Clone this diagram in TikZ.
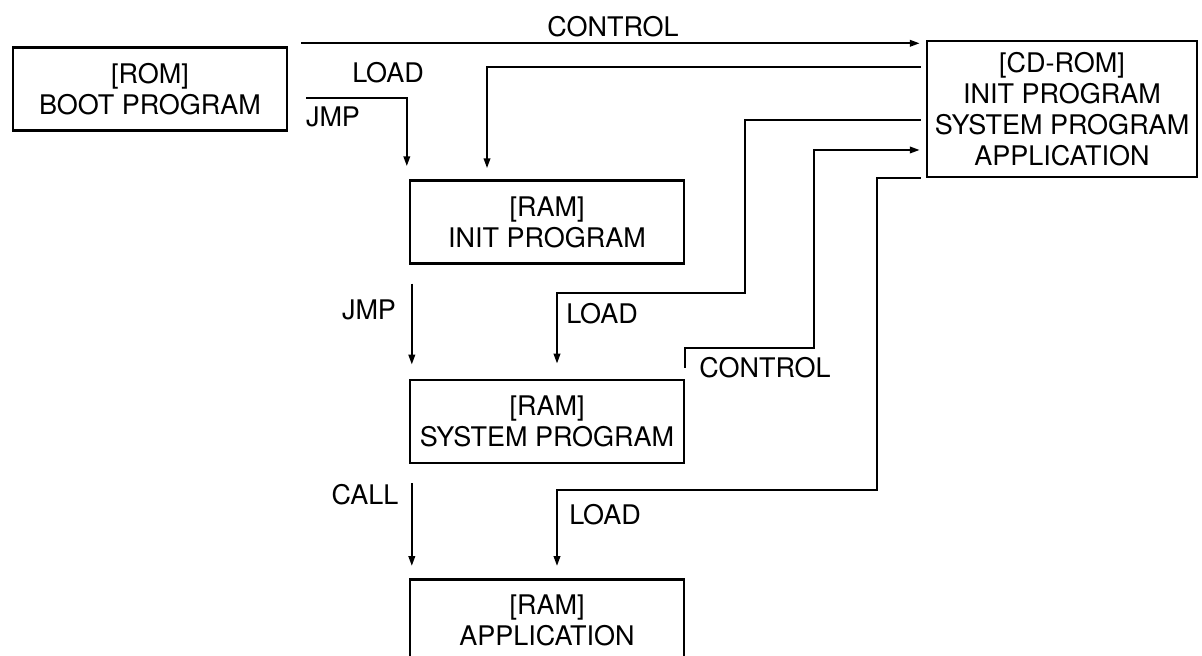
\documentclass[tikz,border=0pt]{standalone}
\usepackage{fontspec}
\setmainfont{TeX Gyre Heros}
\usetikzlibrary{arrows.meta, positioning}

\begin{document}
\begin{tikzpicture}[
  x=0.5pt, y=-0.5pt,
  font=\fontsize{13.5}{15.5}\selectfont,
  >={Triangle[length=5pt, width=3.2pt]},
  node distance=57pt,
  membox/.style={rectangle, draw, line width=1.2pt, align=center,
               minimum width=137pt, minimum height=41.5pt, inner sep=2pt},
  lbl/.style={inner sep=0pt},
  flow/.style={->, line width=1.1pt},
]
\useasboundingbox (0,0) rectangle (1202,656);
\clip (0,0) rectangle (1202,656);

\node[membox] (rom) at (150,89) {[ROM]\\BOOT PROGRAM};
\node[membox, minimum width=135pt, minimum height=68pt] (cdrom) at (1062,109)
  {[CD-ROM]\\INIT PROGRAM\\SYSTEM PROGRAM\\APPLICATION};

\node[membox] (ram1) at (547,222) {[RAM]\\INIT PROGRAM};
\node[membox, below=of ram1] (ram2) {[RAM]\\SYSTEM PROGRAM};
\node[membox, below=of ram2] (ram3) {[RAM]\\APPLICATION};

% labels
\node[lbl] (tctl1) at (613,27)  {CONTROL};
\node[lbl] (tld1)  at (388,73)  {LOAD};
\node[lbl] (tjmp1) at (333,117) {JMP};
\node[lbl] (tjmp2) at (369,310) {JMP};
\node[lbl] (tld2)  at (602,314) {LOAD};
\node[lbl] (tctl2) at (765,368) {CONTROL};
\node[lbl] (tcall) at (365,495) {CALL};
\node[lbl] (tld3)  at (605,515) {LOAD};

% connectors
\coordinate (ctl) at ([shift={(13,-3)}]rom.north east);
\draw[flow, shorten >=3pt] (ctl) -- (ctl -| cdrom.west);
\draw[flow] ([shift={(-5,-42)}]cdrom.west) -| ([shift={(-60,-11)}]ram1.north);
\draw[flow] ([shift={(18,9)}]rom.east) -| ([shift={(-2,-13)}]ram1.north west);
\draw[flow] ([shift={(3,19)}]ram1.south west) -- ([shift={(3,-14)}]ram2.north west);
\draw[flow] ([shift={(-5,11)}]cdrom.west) -| ([shift={(198,28)}]ram1.south)
  -| ([shift={(10,-15)}]ram2.north);
\draw[flow] ([shift={(0,-11)}]ram2.north east) |- ([shift={(129,-31)}]ram2.north east)
  |- ([shift={(-6,41)}]cdrom.west);
\draw[flow] ([shift={(-5,0)}]cdrom.south west) -| ([shift={(330,26)}]ram2.south)
  -| ([shift={(10,-12)}]ram3.north);
\draw[flow] ([shift={(3,19)}]ram2.south west) -- ([shift={(3,-12)}]ram3.north west);

\end{tikzpicture}
\end{document}
